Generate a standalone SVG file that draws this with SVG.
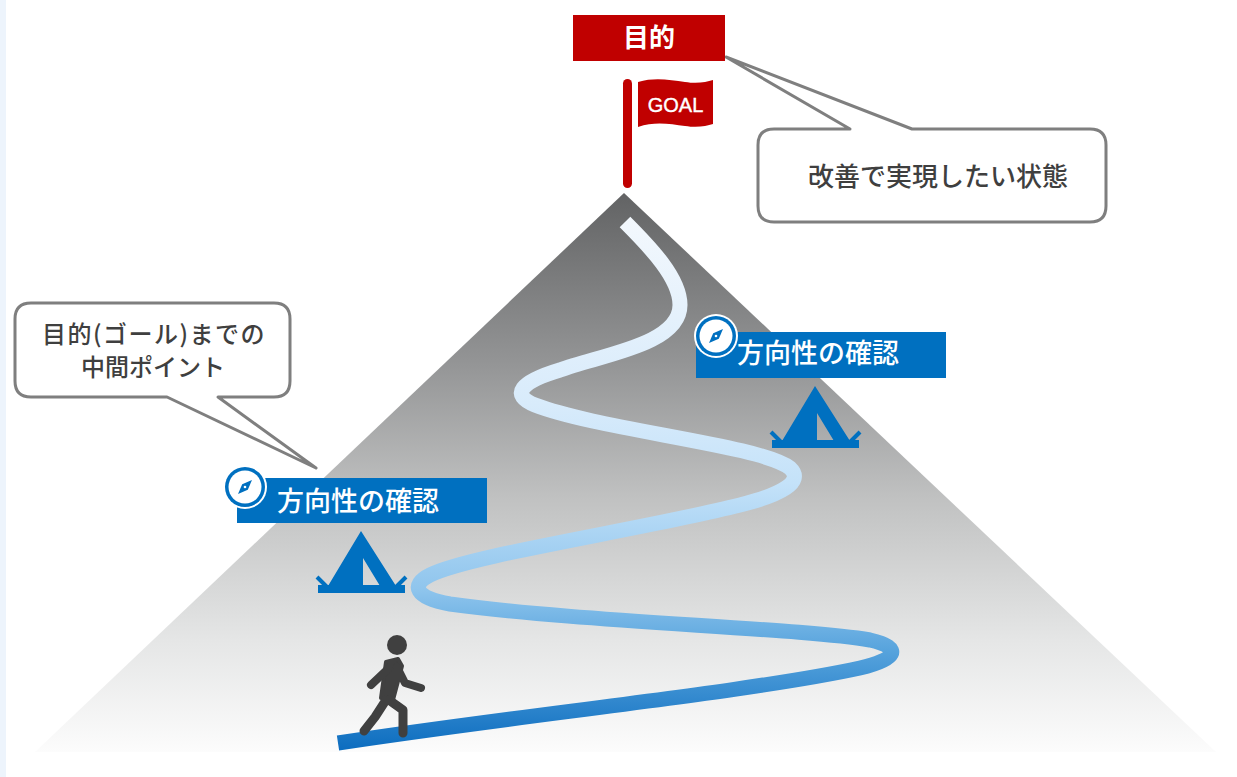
<svg xmlns="http://www.w3.org/2000/svg" xmlns:xlink="http://www.w3.org/1999/xlink" width="1237" height="777" viewBox="0 0 1237 777">
  <style>
    .jp { font-family: "Noto Sans CJK JP", "Noto Sans CJK SC", sans-serif; }
    .callout { fill: #ffffff; stroke: #7f7f7f; stroke-width: 3; stroke-linejoin: round; }
    .callout-text { fill: #3f3f3f; font-weight: 500; }
    .label-box { fill: #0070c0; }
    .label-text { fill: #ffffff; font-size: 27px; font-weight: 500; }
    .red { fill: #c00000; }
    .walker { stroke: #404040; fill: none; stroke-linecap: round; stroke-linejoin: round; }
  </style>
  <defs>
    <linearGradient id="mountainFill" gradientUnits="userSpaceOnUse" x1="0" y1="193" x2="0" y2="752">
      <stop offset="0" stop-color="#626364"/>
      <stop offset="0.3" stop-color="#939495"/>
      <stop offset="0.55" stop-color="#c1c2c2"/>
      <stop offset="0.8" stop-color="#e5e6e6"/>
      <stop offset="1" stop-color="#fcfcfc"/>
    </linearGradient>
    <linearGradient id="trailFill" gradientUnits="userSpaceOnUse" x1="0" y1="218" x2="0" y2="748">
      <stop offset="0" stop-color="#f3f8fd"/>
      <stop offset="0.35" stop-color="#d8ebfb"/>
      <stop offset="0.5" stop-color="#c4e2f9"/>
      <stop offset="0.7" stop-color="#8fc5ed"/>
      <stop offset="0.82" stop-color="#55a2dc"/>
      <stop offset="1" stop-color="#0e6ec0"/>
    </linearGradient>
    <!-- tent icon, drawn at the lower-left camp position -->
    <g id="tent" fill="#0070c0">
      <path fill-rule="evenodd" d="M361,531 L396,586 L328,586 Z M363,558 L363,586 L380,586 Z"/>
      <rect x="318" y="585" width="87" height="8"/>
      <path d="M317,577 L327,587" stroke="#0070c0" stroke-width="4"/>
      <path d="M406,577 L396,587" stroke="#0070c0" stroke-width="4"/>
    </g>
    <!-- compass badge centred on the origin -->
    <g id="compass">
      <circle r="22" fill="#ffffff"/>
      <circle r="20" fill="#0070c0"/>
      <circle r="16.5" fill="#ffffff"/>
      <path d="M7,-7 L2.8,2.8 L-7,7 L-2.8,-2.8 Z" fill="#0070c0"/>
      <circle r="1.3" fill="#ffffff"/>
    </g>
  </defs>

  <!-- page background -->
  <rect x="0" y="0" width="1237" height="777" fill="#ffffff"/>
  <rect x="0" y="0" width="6" height="777" fill="#edf4fc"/>

  <!-- mountain -->
  <g id="mountain">
    <polygon points="624,193 1216,752 35,752" fill="url(#mountainFill)"/>
  </g>

  <!-- winding trail up the mountain -->
  <g id="trail">
    <path d="M625,222 C650,247 680,278 680,305 C680,345 600,355 560,370 C520,382 510,395 535,405 C600,430 760,445 790,468 C805,482 780,495 740,505 C640,530 470,555 430,575 C410,585 415,598 450,604 C580,622 800,628 870,640 C905,648 895,660 860,668 C750,692 520,715 338,743" fill="none" stroke="url(#trailFill)" stroke-width="15"/>
  </g>

  <!-- callout connectors (tails are part of the callout outlines) -->
  <g id="connectors">
    <g id="goal-callout">
      <path class="callout" d="M774,129 L850,129 L726,57 L912,129 L1090,129 Q1106,129 1106,145 L1106,206 Q1106,222 1090,222 L774,222 Q758,222 758,206 L758,145 Q758,129 774,129 Z"/>
    </g>
    <g id="midpoint-callout">
      <path class="callout" d="M31,303 L274,303 Q290,303 290,319 L290,381 Q290,397 274,397 L218,397 L316,468 L167,397 L31,397 Q15,397 15,381 L15,319 Q15,303 31,303 Z"/>
    </g>
  </g>

  <!-- goal banner -->
  <g id="goal-banner">
    <rect class="red" x="573" y="15" width="152" height="46"/>
    <text class="jp" x="649" y="47" font-size="26" font-weight="bold" fill="#ffffff" text-anchor="middle">目的</text>
  </g>

  <!-- goal flag on the summit -->
  <g id="goal-flag">
    <rect class="red" x="623" y="79" width="9" height="109" rx="4.5"/>
    <path class="red" d="M638,82 C655,77 670,80 685,82 C698,84 706,82 713,80 L713,124 C706,126 698,128 685,126 C670,124 655,121 638,127 Z"/>
    <text x="675.5" y="112" font-family="'Liberation Sans', Arial, sans-serif" font-size="20" fill="#ffffff" stroke="#ffffff" stroke-width="0.4" text-anchor="middle">GOAL</text>
  </g>

  <!-- callout texts -->
  <g id="goal-callout-text">
    <text class="jp callout-text" x="938" y="186" font-size="26" text-anchor="middle">改善で実現したい状態</text>
  </g>
  <g id="midpoint-callout-text">
    <text class="jp callout-text" x="154" y="343" font-size="24" letter-spacing="1.5" text-anchor="middle">目的(ゴール)までの</text>
    <text class="jp callout-text" x="153" y="376" font-size="24" text-anchor="middle">中間ポイント</text>
  </g>

  <!-- upper checkpoint -->
  <g id="checkpoint-upper">
    <rect class="label-box" x="696" y="332" width="250" height="46"/>
    <use xlink:href="#compass" href="#compass" transform="translate(716,336)"/>
    <text class="jp label-text" x="737" y="363">方向性の確認</text>
    <use xlink:href="#tent" href="#tent" transform="translate(454,-145)"/>
  </g>

  <!-- lower checkpoint -->
  <g id="checkpoint-lower">
    <rect class="label-box" x="237" y="478" width="250" height="45"/>
    <use xlink:href="#compass" href="#compass" transform="translate(245,487)"/>
    <text class="jp label-text" x="277" y="511">方向性の確認</text>
    <use xlink:href="#tent" href="#tent"/>
  </g>

  <!-- hiker at the trailhead -->
  <g id="hiker">
    <circle cx="397" cy="645" r="10" fill="#404040"/>
    <path d="M386,662 L398,659 L402,666 L393,700 L381,698 Z" fill="#404040" stroke="#404040" stroke-width="4" stroke-linejoin="round"/>
    <path class="walker" stroke-width="8" d="M389,668 L371,685"/>
    <path class="walker" stroke-width="8" d="M397,667 L405,683 L421,688"/>
    <path class="walker" stroke-width="9" d="M386,700 L375,717 L364,731"/>
    <path class="walker" stroke-width="9" d="M389,700 L403,710 L403,733"/>
  </g>
</svg>
